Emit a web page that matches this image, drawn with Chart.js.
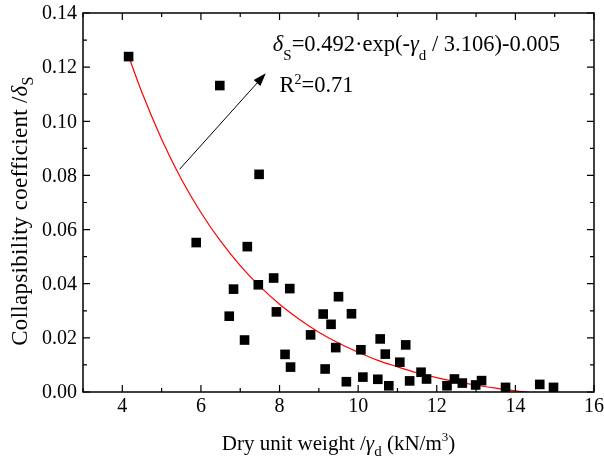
<!DOCTYPE html>
<html><head><meta charset="utf-8">
<script src="https://cdn.jsdelivr.net/npm/chart.js@4/dist/chart.umd.min.js"></script>
<style>html,body{margin:0;padding:0;background:#fff}#wrap{width:604px;height:462px}
.pre{font-family:"Liberation Serif";position:absolute;left:-9999px;top:0}</style>
</head><body><span class="pre">0.14 δγ <i>δγ</i></span><div id="wrap"><canvas id="c" width="604" height="462"></canvas></div>
<script>
// measured points: dry unit weight (kN/m3) and collapsibility coefficient
const gammaD = [4.16,6.48,7.48,5.88,7.18,7.85,7.46,6.83,8.26,9.50,6.72,7.92,9.11,9.31,8.79,7.11,9.43,8.14,8.28,9.16,
  9.83,10.56,11.21,10.07,10.69,11.06,11.60,11.74,9.70,10.12,10.50,10.78,11.31,12.26,12.45,12.65,12.99,13.14,13.75,14.62,14.97];
const deltaS = [0.1239,0.1132,0.0804,0.0552,0.0537,0.0421,0.0396,0.0380,0.0382,0.0352,0.0280,0.0296,0.0288,0.0250,0.0211,0.0192,0.0164,0.0139,0.0092,0.0085,
  0.0289,0.0196,0.0174,0.0156,0.0140,0.0110,0.0073,0.0048,0.0038,0.0055,0.0047,0.0023,0.0041,0.0023,0.0048,0.0033,0.0026,0.0042,0.0017,0.0028,0.0017];
// fitted curve
const fitX = [4.16,4.5,5,5.5,6,6.5,7,7.5,8,8.5,9,9.5,10,10.5,11,11.5,12,12.5,13,13.5,14,14.5];
const fitY = [0.1240,0.1106,0.0934,0.0787,0.0663,0.0557,0.0467,0.0390,0.0324,0.0269,0.0221,0.0181,0.0147,0.0117,0.0093,0.0071,0.0053,0.0038,0.0025,0.0014,0.0004,-0.0004];
const xTicks = [4,6,8,10,12,14,16];
const yTicks = [0.00,0.02,0.04,0.06,0.08,0.10,0.12,0.14];
const arrowFrom = [5.46,0.0823];
const arrowTo = [7.65,0.1177];

const FONT = '"Liberation Serif", "Times New Roman", "DejaVu Serif", serif';

function drawRich(ctx, x, y, segs, align, spacing) {
  // segs: [text, size, italic, dy]
  ctx.letterSpacing = (spacing || 0) + 'px';
  let total = 0;
  segs.forEach(s => { ctx.font = (s[2]?'italic ':'') + s[1] + 'px ' + FONT; total += ctx.measureText(s[0]).width; });
  let cx = align === 'center' ? x - total/2 : x;
  ctx.textAlign = 'left'; ctx.textBaseline = 'alphabetic';
  segs.forEach(s => {
    ctx.font = (s[2]?'italic ':'') + s[1] + 'px ' + FONT;
    ctx.fillText(s[0], cx, y + (s[3]||0));
    cx += ctx.measureText(s[0]).width;
  });
  ctx.letterSpacing = '0px';
}

const decor = {
  id: 'decor',
  afterDatasetsDraw(chart) {
    const ctx = chart.ctx, xs = chart.scales.x, ys = chart.scales.y, a = chart.chartArea;
    ctx.save();
    ctx.strokeStyle = '#000'; ctx.fillStyle = '#000';
    // frame
    ctx.lineWidth = 1.5;
    ctx.strokeRect(a.left, a.top, a.right - a.left, a.bottom - a.top);
    // ticks inward
    ctx.lineWidth = 1.2;
    ctx.beginPath();
    for (let v = 3; v <= 16; v += 1) {
      const px = xs.getPixelForValue(v);
      const L = (v % 2 === 0) ? 7 : 4;
      ctx.moveTo(px, a.bottom); ctx.lineTo(px, a.bottom - L);
      ctx.moveTo(px, a.top); ctx.lineTo(px, a.top + L);
    }
    for (let k = 0; k <= 14; k++) {
      const v = k * 0.01;
      const py = ys.getPixelForValue(v);
      const L = (k % 2 === 0) ? 7 : 4;
      ctx.moveTo(a.left, py); ctx.lineTo(a.left + L, py);
      ctx.moveTo(a.right, py); ctx.lineTo(a.right - L, py);
    }
    ctx.stroke();
    // tick labels
    ctx.font = '20px ' + FONT;
    ctx.textAlign = 'center'; ctx.textBaseline = 'alphabetic';
    xTicks.forEach(v => ctx.fillText(String(v), xs.getPixelForValue(v), a.bottom + 20));
    ctx.textAlign = 'right'; ctx.textBaseline = 'middle';
    yTicks.forEach(v => ctx.fillText(v.toFixed(2), a.left - 6, ys.getPixelForValue(v) + 1));
    // axis titles
    drawRich(ctx, (a.left + a.right)/2, 450, [['Dry unit weight /',21,false],['γ',21,true],['d',15,false,6],[' (kN/m',21,false],['3',13,false,-9],[')',21,false]], 'center');
    ctx.save();
    ctx.translate(27, 211);
    ctx.rotate(-Math.PI/2);
    drawRich(ctx, 0, 0, [['Collapsibility coefficient /',23,false],['δ',23,true],['S',16,false,6]], 'center', 0.3);
    ctx.restore();
    // arrow
    const x1 = xs.getPixelForValue(arrowFrom[0]), y1 = ys.getPixelForValue(arrowFrom[1]);
    const x2 = xs.getPixelForValue(arrowTo[0]), y2 = ys.getPixelForValue(arrowTo[1]);
    const ang = Math.atan2(y2 - y1, x2 - x1);
    const hl = 13, hw = 4.5;
    const bx = x2 - hl*Math.cos(ang), by = y2 - hl*Math.sin(ang);
    ctx.lineWidth = 1;
    ctx.beginPath(); ctx.moveTo(x1, y1); ctx.lineTo(bx, by); ctx.stroke();
    ctx.beginPath();
    ctx.moveTo(x2, y2);
    ctx.lineTo(bx + hw*Math.sin(ang), by - hw*Math.cos(ang));
    ctx.lineTo(bx - hw*Math.sin(ang), by + hw*Math.cos(ang));
    ctx.closePath(); ctx.fill();
    // equation
    const ex = xs.getPixelForValue(7.83), ey = ys.getPixelForValue(0.1261);
    drawRich(ctx, ex, ey, [['δ',22.5,true],['S',15,false,9],['=0.492·exp(-',22.5,false],['γ',22.5,true],['d',15,false,9],[' / 3.106)-0.005',22.5,false]], 'left');
    const rx = xs.getPixelForValue(8.0), ry = ys.getPixelForValue(0.1110);
    drawRich(ctx, rx, ry, [['R',22.5,false],['2',14,false,-8],['=0.71',22.5,false]], 'left');
    ctx.restore();
  }
};

function build() {
  new Chart(document.getElementById('c'), {
    type: 'scatter',
    data: {
      datasets: [
        { label: 'fit', type: 'line', data: fitX.map((x,i)=>({x, y: fitY[i]})), borderColor: '#ff0000', borderWidth: 1.2,
          pointRadius: 0, fill: false, tension: 0.4, cubicInterpolationMode: 'monotone', order: 2 },
        { label: 'data', data: gammaD.map((x,i)=>({x, y: deltaS[i]})), pointStyle: 'rect', pointRadius: 6.8,
          backgroundColor: '#000', borderWidth: 0, order: 1 }
      ]
    },
    options: {
      responsive: false, animation: false, devicePixelRatio: 1,
      layout: { padding: { left: 0, right: 10, top: 13, bottom: 0 } },
      plugins: { legend: { display: false }, tooltip: { enabled: false } },
      scales: {
        x: { type: 'linear', min: 3, max: 16, grid: { display: false }, border: { display: false },
          ticks: { display: false }, afterFit(s) { s.height = 70; } },
        y: { type: 'linear', min: 0, max: 0.14, grid: { display: false }, border: { display: false },
          ticks: { display: false }, afterFit(s) { s.width = 83; } }
      }
    },
    plugins: [decor]
  });
}
Promise.all([
  document.fonts.load('18px "Liberation Serif"'),
  document.fonts.load('italic 18px "Liberation Serif"')
]).then(build, build);
</script></body></html>
